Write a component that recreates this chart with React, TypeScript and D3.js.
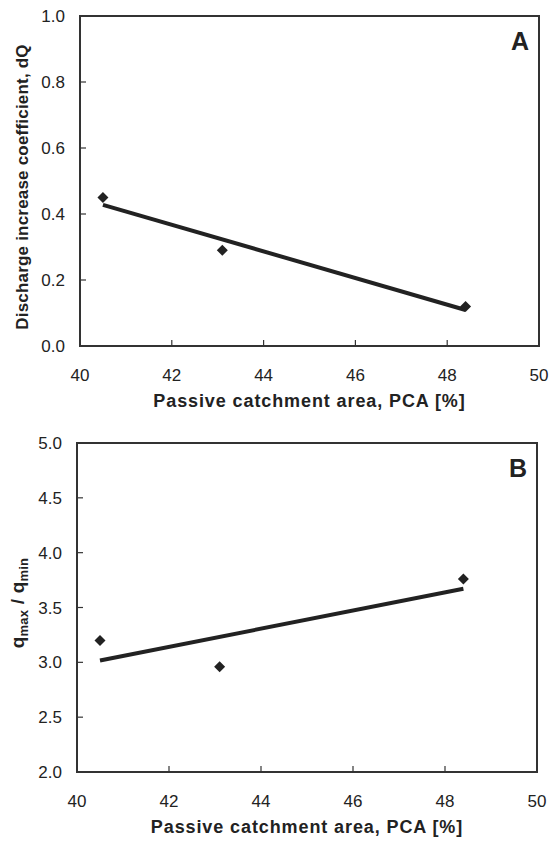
import React from "react";
import * as d3 from "d3";

// Passive catchment area (PCA, %) of the three catchments
const pcaValues = [40.5, 43.1, 48.4];
// Panel A: discharge increase coefficient dQ
const dqValues = [0.45, 0.29, 0.12];
// Panel B: ratio q_max / q_min
const qRatioValues = [3.2, 2.96, 3.76];

const xTicks = [40, 42, 44, 46, 48, 50];
const yTicksA = [0, 0.2, 0.4, 0.6, 0.8, 1.0];
const yTicksB = [2.0, 2.5, 3.0, 3.5, 4.0, 4.5, 5.0];

const INK = "#222";
const FONT = "Liberation Sans, Arial, sans-serif";

// Least-squares linear fit
function linearFit(xs: number[], ys: number[]) {
  const mx = d3.mean(xs) as number;
  const my = d3.mean(ys) as number;
  let sxy = 0;
  let sxx = 0;
  xs.forEach((x, i) => {
    sxy += (x - mx) * (ys[i] - my);
    sxx += (x - mx) * (x - mx);
  });
  const slope = sxy / sxx;
  return (x: number) => my + slope * (x - mx);
}

type PanelProps = {
  left: number;
  right: number;
  top: number;
  bottom: number;
  yDomain: [number, number];
  yTicks: number[];
  ys: number[];
  letter: string;
  yTitle: React.ReactNode;
  yTitleX: number;
  yTitleY: number;
  yTitleSize: number;
};

function Panel({
  left,
  right,
  top,
  bottom,
  yDomain,
  yTicks,
  ys,
  letter,
  yTitle,
  yTitleX,
  yTitleY,
  yTitleSize,
}: PanelProps) {
  const x = d3.scaleLinear().domain([40, 50]).range([left, right]);
  const y = d3.scaleLinear().domain(yDomain).range([bottom, top]);
  const fit = linearFit(pcaValues, ys);
  const x0 = d3.min(pcaValues) as number;
  const x1 = d3.max(pcaValues) as number;
  const line = d3
    .line<number>()
    .x((d) => x(d))
    .y((d) => y(fit(d)));
  const r = 5.5;
  return (
    <g>
      <rect
        x={left}
        y={top}
        width={right - left}
        height={bottom - top}
        fill="none"
        stroke="#333"
        strokeWidth={2}
      />
      {xTicks.map((t) => (
        <g key={"x" + t}>
          {t > 40 && t < 50 && (
            <line x1={x(t)} x2={x(t)} y1={bottom} y2={bottom - 6} stroke="#333" strokeWidth={1.2} />
          )}
          <text
            x={x(t)}
            y={bottom + 35}
            textAnchor="middle"
            fontSize={17}
            fill={INK}
            fontFamily={FONT}
          >
            {t}
          </text>
        </g>
      ))}
      {yTicks.map((t) => (
        <g key={"y" + t}>
          {t > yDomain[0] && t < yDomain[1] && (
            <line x1={left} x2={left + 6} y1={y(t)} y2={y(t)} stroke="#333" strokeWidth={1.2} />
          )}
          <text
            x={left - 15}
            y={y(t) + 6}
            textAnchor="end"
            fontSize={17}
            fill={INK}
            fontFamily={FONT}
          >
            {t.toFixed(1)}
          </text>
        </g>
      ))}
      <path d={line([x0, x1]) as string} fill="none" stroke={INK} strokeWidth={4} />
      {pcaValues.map((p, i) => {
        const cx = x(p);
        const cy = y(ys[i]);
        return (
          <path
            key={"m" + i}
            d={`M${cx},${cy - r}L${cx + r},${cy}L${cx},${cy + r}L${cx - r},${cy}Z`}
            fill={INK}
          />
        );
      })}
      <text
        x={(left + right) / 2}
        y={bottom + 61}
        textAnchor="middle"
        fontSize={18}
        fontWeight="bold"
        fill={INK}
        fontFamily={FONT}
        letterSpacing={0.9}
      >
        Passive catchment area, PCA [%]
      </text>
      <text
        transform={`translate(${yTitleX},${yTitleY}) rotate(-90)`}
        textAnchor="middle"
        fontSize={yTitleSize}
        fontWeight="bold"
        fill={INK}
        fontFamily={FONT}
        letterSpacing={0.2}
      >
        {yTitle}
      </text>
      <text
        x={right - 10}
        y={top + 34}
        textAnchor="end"
        fontSize={25}
        fontWeight="bold"
        fill={INK}
        fontFamily={FONT}
      >
        {letter}
      </text>
    </g>
  );
}

export default function App() {
  return (
    <svg width={550} height={842} style={{ position: "absolute", left: 0, top: 0, background: "#fff" }}>
      <Panel
        left={80}
        right={539}
        top={16}
        bottom={346}
        yDomain={[0, 1]}
        yTicks={yTicksA}
        ys={dqValues}
        letter="A"
        yTitle="Discharge increase coefficient, dQ"
        yTitleX={28}
        yTitleY={187}
        yTitleSize={17}
      />
      <Panel
        left={77}
        right={537}
        top={443}
        bottom={772}
        yDomain={[2, 5]}
        yTicks={yTicksB}
        ys={qRatioValues}
        letter="B"
        yTitle={
          <>
            <tspan>q</tspan>
            <tspan fontSize={13} dy={4}>max</tspan>
            <tspan dy={-4}> / q</tspan>
            <tspan fontSize={13} dy={4}>min</tspan>
          </>
        }
        yTitleX={24}
        yTitleY={603}
        yTitleSize={19}
      />
    </svg>
  );
}
